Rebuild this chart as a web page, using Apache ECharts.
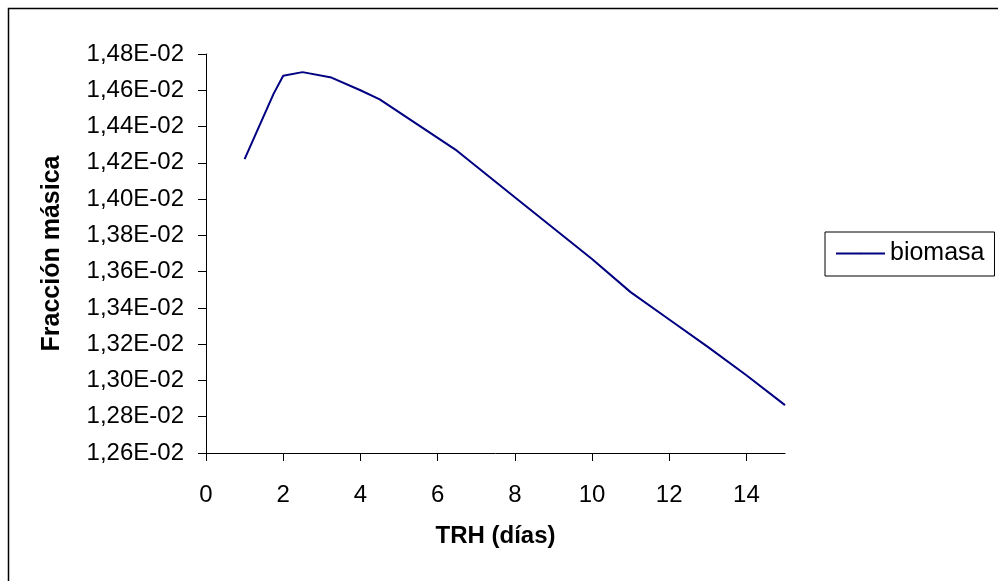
<!DOCTYPE html>
<html>
<head>
<meta charset="utf-8">
<script src="https://cdn.jsdelivr.net/npm/echarts@6/dist/echarts.min.js"></script>
<style>
  html, body { margin: 0; padding: 0; background: #fff; }
  #chart { width: 998px; height: 581px; }
</style>
</head>
<body>
<div id="chart"></div>
<script>
// TRH (dias) and biomass mass fraction
var trh = [1, 1.75, 2, 2.5, 3.25, 4, 4.5, 6.5, 8, 10, 11, 12, 13, 14, 15];
var biomasa = [0.01422, 0.01458, 0.01468, 0.01470, 0.01467, 0.01460, 0.01455, 0.014267,
               0.01401, 0.01367, 0.013487, 0.013336, 0.013185, 0.013029, 0.012864];
var xTicks = [0, 2, 4, 6, 8, 10, 12, 14];

var font = '"Liberation Sans", Arial, sans-serif';

function sci(v) {
    // 0.0148 -> "1,48E-02"
    var s = v.toExponential(2);
    var m = s.split('e');
    var exp = parseInt(m[1], 10);
    var sign = exp < 0 ? '-' : '+';
    var e = Math.abs(exp);
    return m[0].replace('.', ',') + 'E' + sign + (e < 10 ? '0' + e : e);
}

var chart = echarts.init(document.getElementById('chart'));
var option = {
    animation: false,
    backgroundColor: '#fff',
    textStyle: { fontFamily: font },
    graphic: [{
        type: 'rect',
        shape: { x: 8.5, y: 8.5, width: 1200, height: 1200 },
        style: { fill: 'none', stroke: '#000', lineWidth: 1.5 },
        silent: true
    }],
    grid: { left: 206, right: 213, top: 54, bottom: 128 },
    legend: {
        left: 825,
        top: 232,
        padding: [9, 10, 10, 10],
        borderColor: '#000',
        borderWidth: 1,
        itemWidth: 49,
        itemHeight: 2,
        textStyle: { fontSize: 25, color: '#000', fontFamily: font },
        data: ['biomasa']
    },
    xAxis: {
        type: 'value',
        min: 0,
        max: 15,
        interval: 2,
        name: 'TRH (días)',
        nameLocation: 'middle',
        nameGap: 71,
        nameTextStyle: { fontSize: 24, fontWeight: 'bold', color: '#000', fontFamily: font },
        axisLine: { lineStyle: { color: '#000', width: 1 } },
        axisTick: { show: true, length: 8, lineStyle: { color: '#000' }, customValues: xTicks },
        axisLabel: { fontSize: 24, color: '#000', margin: 30, customValues: xTicks },
        splitLine: { show: false }
    },
    yAxis: {
        type: 'value',
        min: 0.0126,
        max: 0.0148,
        interval: 0.0002,
        name: 'Fracción másica',
        nameLocation: 'middle',
        nameRotate: 90,
        nameGap: 141,
        nameTextStyle: { fontSize: 25, fontWeight: 'bold', color: '#000', fontFamily: font },
        axisLine: { show: true, lineStyle: { color: '#000', width: 1 } },
        axisTick: { show: true, length: 8, lineStyle: { color: '#000' } },
        axisLabel: { fontSize: 24, color: '#000', margin: 22, formatter: sci },
        splitLine: { show: false }
    },
    series: [{
        name: 'biomasa',
        type: 'line',
        symbol: 'none',
        data: trh.map(function (x, i) { return [x, biomasa[i]]; }),
        lineStyle: { color: '#000080', width: 2 },
        itemStyle: { color: '#000080' }
    }]
};
chart.setOption(option);
</script>
</body>
</html>
